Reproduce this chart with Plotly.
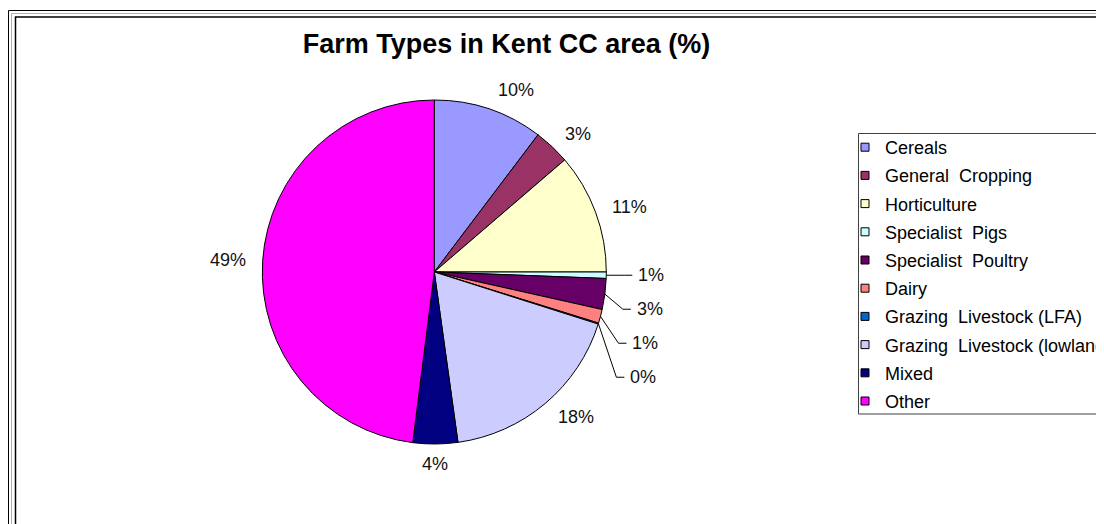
import math
import plotly.graph_objects as go

categories = ["Cereals", "General  Cropping", "Horticulture", "Specialist  Pigs",
              "Specialist  Poultry", "Dairy", "Grazing  Livestock (LFA)",
              "Grazing  Livestock (lowland)", "Mixed", "Other"]
values = [10.3, 3.4, 11.3, 0.6, 2.9, 1.3, 0.1, 17.9, 4.2, 48.0]
value_labels = ["10%", "3%", "11%", "1%", "3%", "1%", "0%", "18%", "4%", "49%"]
colors = ["#9999FF", "#993366", "#FFFFCC", "#CCFFFF", "#660066", "#FF8080",
          "#0066CC", "#CCCCFF", "#000080", "#FF00FF"]

W, H = 1104, 524
FONT = "Liberation Sans, Arial, sans-serif"

# pie geometry (figure pixel coordinates, y downward)
CX, CY, R = 426.3, 264.0, 172.0
GAP = 12.0          # distance of label anchor outside the pie edge
LEADER_DX = 30.0    # horizontal distance of leader-lined labels from the edge
LEADER_STEP = 34.0  # minimum vertical spacing of leader-lined labels


def px(x):
    return x / W


def py(y):
    return 1 - y / H


fig = go.Figure()
fig.add_trace(go.Pie(
    labels=categories, values=values,
    textinfo="none",
    marker=dict(colors=colors, line=dict(color="#000000", width=1)),
    sort=False, direction="clockwise", rotation=0,
    showlegend=False, hoverinfo="label+percent",
    domain=dict(x=[px(CX - R), px(CX + R)], y=[py(CY + R), py(CY - R)]),
))
for i, (name, col) in enumerate(zip(categories, colors)):
    fig.add_trace(go.Scatter(
        x=[None], y=[None], mode="markers", name=name, legendgroup=f"g{i}",
        marker=dict(symbol="square", size=8, color=col, line=dict(color="#000000", width=1)),
        showlegend=True, hoverinfo="skip",
    ))

# data labels, positioned from the slice geometry
total = sum(values)
annotations = []
shapes = []
cum = 0.0
prev_leader_y = None
for v, lab in zip(values, value_labels):
    theta = 2 * math.pi * (cum + v / 2) / total
    cum += v
    ux, uy = math.sin(theta), -math.cos(theta)
    deg = math.degrees(theta)
    ex, ey = CX + R * ux, CY + R * uy
    if v < 3.5 and 80 < deg < 120:
        ly = ey if prev_leader_y is None else max(ey, prev_leader_y + LEADER_STEP)
        prev_leader_y = ly
        lx = ex + LEADER_DX
        annotations.append(dict(x=px(lx), y=py(ly), xref="paper", yref="paper", text=lab,
                                showarrow=False, xanchor="left", yanchor="middle",
                                font=dict(family=FONT, size=18, color="#111111")))
        path = (f"M {px(ex)},{py(ey)} L {px(lx - 12)},{py(ly)} L {px(lx - 4)},{py(ly)}")
        shapes.append(dict(type="path", xref="paper", yref="paper", path=path,
                           line=dict(color="#000000", width=1)))
    else:
        ax, ay = CX + (R + GAP) * ux, CY + (R + GAP) * uy
        if ux > 0.2:
            xa, ax = "left", ax + 3
        elif ux < -0.2:
            xa, ax = "right", ax - 3
        else:
            xa = "center"
        ay = ay + 8 * uy * abs(uy)
        annotations.append(dict(x=px(ax), y=py(ay), xref="paper", yref="paper", text=lab,
                                showarrow=False, xanchor=xa, yanchor="middle",
                                font=dict(family=FONT, size=18, color="#111111")))

shapes += [
    dict(type="rect", xref="paper", yref="paper", x0=px(0.5), x1=px(1093), y0=-0.1, y1=py(2.5),
         line=dict(color="#000000", width=1), fillcolor="rgba(0,0,0,0)", layer="below"),
    dict(type="rect", xref="paper", yref="paper", x0=px(3.5), x1=px(1093), y0=-0.1, y1=py(5.5),
         line=dict(color="#B0B0B0", width=1), fillcolor="rgba(0,0,0,0)", layer="below"),
    dict(type="rect", xref="paper", yref="paper", x0=px(7.5), x1=px(1093), y0=-0.1, y1=py(9),
         line=dict(color="#000000", width=1.5), fillcolor="rgba(0,0,0,0)", layer="below"),
    dict(type="line", xref="paper", yref="paper", x0=px(1093), x1=px(1093), y0=-0.1, y1=py(2),
         line=dict(color="#404040", width=2)),
    dict(type="rect", xref="paper", yref="paper", x0=px(850.5), x1=px(1120), y0=py(406), y1=py(125.5),
         line=dict(color="#404040", width=1), fillcolor="rgba(0,0,0,0)"),
]

fig.update_layout(
    width=W, height=H,
    margin=dict(l=0, r=0, t=0, b=0, autoexpand=False),
    paper_bgcolor="#FFFFFF", plot_bgcolor="#FFFFFF",
    xaxis=dict(visible=False), yaxis=dict(visible=False),
    title=dict(text="<b>Farm Types in Kent CC area (%)</b>", x=px(498.5), xanchor="center",
               y=py(35.3), yanchor="middle", yref="container",
               font=dict(family=FONT, size=27, color="#000000")),
    legend=dict(x=px(842), xanchor="left", y=py(121), yanchor="top",
                bgcolor="rgba(0,0,0,0)", borderwidth=0, tracegroupgap=1.8,
                font=dict(family=FONT, size=18, color="#000000"), indentation=-5),
    shapes=shapes,
    annotations=annotations,
)
fig.write_html("out.html")
